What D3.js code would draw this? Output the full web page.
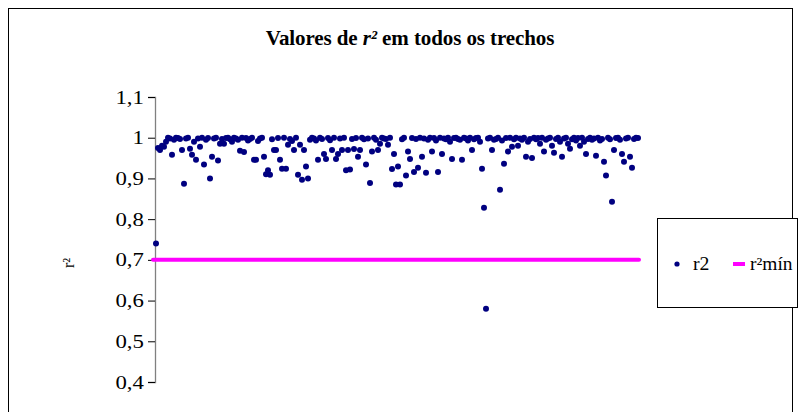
<!DOCTYPE html>
<html>
<head>
<meta charset="utf-8">
<script src="https://cdn.jsdelivr.net/npm/d3@7"></script>
<style>
  html, body { margin: 0; padding: 0; background: #fff; }
  svg { display: block; }
  text { font-family: "Liberation Serif", "Times New Roman", serif; }
</style>
</head>
<body>
<svg id="chart" width="799" height="412"></svg>
<script>
// r² of each stretch, in order
const r2Values = [
  0.74, 0.975, 0.97, 0.98, 0.978, 0.99, 1.0, 0.998, 0.958, 0.995,
  1.0, 0.999, 0.997, 0.97, 0.887, 0.998, 1.0, 0.973, 0.958, 0.99,
  0.946, 0.998, 0.978, 1.0, 0.934, 0.995, 0.999, 0.90, 0.953, 0.998,
  1.0, 0.944, 0.985, 0.997, 0.985, 0.999, 1.0, 0.996, 0.99, 1.0,
  0.998, 0.995, 0.968, 1.0, 0.965, 0.999, 0.993, 0.997, 1.0, 0.946,
  0.946, 0.992, 0.998, 1.0, 0.953, 0.91, 0.92, 0.909, 0.996, 0.97,
  0.97, 0.999, 0.946, 0.924, 1.0, 0.924, 0.983, 0.997, 0.992, 0.97,
  1.0, 0.909, 0.983, 0.897, 0.97, 0.929, 0.90, 0.995, 1.0, 0.998,
  0.993, 0.946, 1.0, 0.997, 0.96, 0.948, 0.999, 0.994, 0.97, 1.0,
  0.948, 0.96, 0.998, 0.97, 1.0, 0.92, 0.97, 0.922, 0.997, 0.972,
  0.999, 0.953, 0.97, 1.0, 0.996, 0.934, 0.998, 0.889, 0.966, 1.0,
  0.995, 0.97, 0.985, 1.0, 0.998, 0.997, 0.983, 1.0, 0.923, 0.96,
  0.885, 0.929, 0.885, 0.996, 1.0, 0.907, 0.966, 0.948, 0.999, 0.916,
  0.997, 0.926, 1.0, 0.953, 0.998, 0.914, 0.995, 1.0, 0.966, 0.999,
  0.993, 0.916, 1.0, 0.96, 0.998, 0.996, 1.0, 0.99, 0.948, 0.999,
  1.0, 0.997, 0.995, 0.946, 1.0, 0.998, 0.993, 1.0, 0.97, 0.996,
  0.999, 1.0, 0.99, 0.924, 0.828, 0.58, 0.998, 1.0, 0.97, 0.995,
  0.997, 1.0, 0.872, 0.993, 0.936, 0.999, 0.966, 1.0, 0.978, 0.996,
  1.0, 0.98, 0.998, 0.995, 1.0, 0.953, 0.99, 0.997, 0.95, 1.0,
  0.996, 0.999, 0.985, 1.0, 0.966, 0.995, 0.998, 1.0, 0.98, 0.963,
  0.997, 1.0, 0.99, 0.953, 0.998, 1.0, 0.985, 0.973, 0.996, 1.0,
  0.993, 0.999, 0.98, 1.0, 0.99, 0.96, 0.997, 1.0, 0.995, 0.998,
  0.956, 1.0, 0.993, 0.997, 0.941, 0.907, 1.0, 0.996, 0.843, 0.97,
  0.999, 1.0, 0.995, 0.96, 0.941, 0.998, 1.0, 0.953, 0.926, 0.997,
  1.0, 0.999
];
// minimum acceptable r²
const r2Min = 0.7;
const yTicks = [0.4, 0.5, 0.6, 0.7, 0.8, 0.9, 1.0, 1.1];
const yTickLabels = ["0,4", "0,5", "0,6", "0,7", "0,8", "0,9", "1", "1,1"];
const seriesNames = ["r2", "r²mín"];

const svg = d3.select("#chart");

// chart frame
svg.append("rect")
  .attr("x", 8.5).attr("y", 8.5)
  .attr("width", 784).attr("height", 420)
  .attr("fill", "#fff").attr("stroke", "#000").attr("stroke-width", 1);

// title
const title = svg.append("text")
  .attr("x", 410).attr("y", 45)
  .attr("text-anchor", "middle")
  .attr("font-size", 21).attr("font-weight", "bold")
  .attr("letter-spacing", -0.1);
title.append("tspan").text("Valores de ");
title.append("tspan").attr("font-style", "italic").text("r²");
title.append("tspan").text(" em todos os trechos");

const x = d3.scaleLinear().domain([1, r2Values.length]).range([156, 638]);
const y = d3.scaleLinear().domain([0.4, 1.1]).range([382, 97]);

// y axis
const yAxis = d3.axisLeft(y)
  .tickValues(yTicks)
  .tickFormat((d, i) => yTickLabels[i])
  .tickSize(7).tickPadding(4);
const gY = svg.append("g").attr("transform", "translate(155,0)").call(yAxis);
gY.select(".domain").attr("stroke", "#808080").attr("stroke-width", 1.3);
gY.selectAll(".tick line").attr("stroke", "#000");
gY.selectAll(".tick text")
  .attr("font-family", "Liberation Serif, serif")
  .attr("font-size", 19).attr("fill", "#000")
  .attr("x", -9.2)
  .attr("transform", "scale(1.2,1)");

// y axis title
svg.append("text")
  .attr("transform", "translate(74,263) rotate(-90)")
  .attr("text-anchor", "middle")
  .attr("font-size", 16)
  .text("r²");

// r²mín reference line
svg.append("line")
  .attr("x1", x(1) - 3).attr("x2", x(r2Values.length) + 1)
  .attr("y1", y(r2Min)).attr("y2", y(r2Min))
  .attr("stroke", "#ff00ff").attr("stroke-width", 4)
  .attr("stroke-linecap", "round");

// r2 points
svg.append("g").selectAll("circle")
  .data(r2Values)
  .join("circle")
  .attr("cx", (d, i) => x(i + 1))
  .attr("cy", d => y(d))
  .attr("r", 3)
  .attr("fill", "#000080");

// legend
const lg = svg.append("g");
lg.append("rect")
  .attr("x", 657.5).attr("y", 218.5)
  .attr("width", 140).attr("height", 89)
  .attr("fill", "#fff").attr("stroke", "#000");
lg.append("circle").attr("cx", 677).attr("cy", 264).attr("r", 2.6).attr("fill", "#000080");
lg.append("text").attr("transform", "translate(693,270) scale(1.1,1)")
  .attr("font-size", 18).text(seriesNames[0]);
lg.append("line")
  .attr("x1", 733).attr("x2", 745).attr("y1", 264).attr("y2", 264)
  .attr("stroke", "#ff00ff").attr("stroke-width", 4);
lg.append("text").attr("transform", "translate(750,270) scale(1.08,1)")
  .attr("font-size", 18).text(seriesNames[1]);
</script>
</body>
</html>
